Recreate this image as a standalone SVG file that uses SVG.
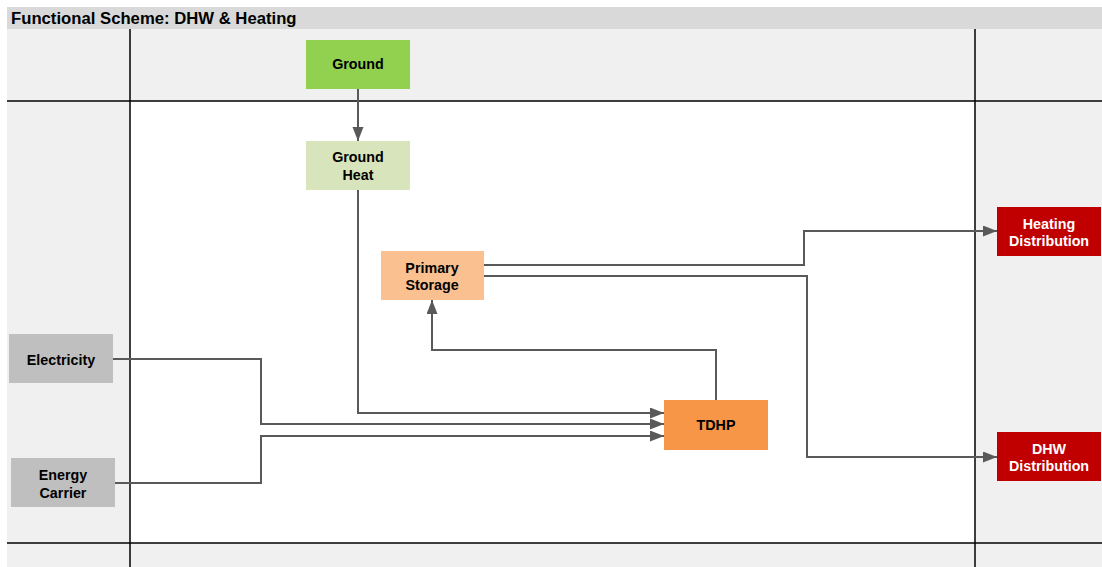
<svg xmlns="http://www.w3.org/2000/svg" width="1102" height="567" viewBox="0 0 1102 567">
<style>
.lbl{font-family:"Liberation Sans",Arial,sans-serif;font-weight:bold;font-size:14.3px;text-anchor:middle;fill:#000}
.w{fill:#fff}
.conn{fill:none;stroke:#595959;stroke-width:2}
.grid{stroke:#000;stroke-width:1.5}
</style>
<defs>
<marker id="arr" markerUnits="userSpaceOnUse" markerWidth="16" markerHeight="12" refX="14" refY="5.5" orient="auto">
<path d="M0,0 L14,5.5 L0,11 Z" fill="#595959"/>
</marker>
</defs>
<g id="background">
<rect x="0" y="0" width="1102" height="567" fill="#fff"/>
<rect x="7" y="29" width="1095" height="538" fill="#f0f0f0"/>
<rect x="7" y="7" width="1095" height="22" fill="#d9d9d9"/>
<rect x="130" y="101" width="845" height="442" fill="#fff"/>
<line class="grid" x1="7" y1="101" x2="1102" y2="101"/>
<line class="grid" x1="7" y1="543" x2="1102" y2="543"/>
<line class="grid" x1="130" y1="29" x2="130" y2="567"/>
<line class="grid" x1="975" y1="29" x2="975" y2="567"/>
<text x="11" y="24" font-family="Liberation Sans, Arial, sans-serif" font-weight="bold" font-size="16.7">Functional Scheme: DHW &amp; Heating</text>
</g>
<g id="connectors">
<path class="conn" d="M358,89 V141" marker-end="url(#arr)"/>
<path class="conn" d="M358,190 V413 H664" marker-end="url(#arr)"/>
<path class="conn" d="M113,359 H261 V424 H664" marker-end="url(#arr)"/>
<path class="conn" d="M115,483 H261 V436 H664" marker-end="url(#arr)"/>
<path class="conn" d="M716,400 V350 H432 V300" marker-end="url(#arr)"/>
<path class="conn" d="M484,265 H804 V231 H997" marker-end="url(#arr)"/>
<path class="conn" d="M484,276 H807 V457 H997" marker-end="url(#arr)"/>
</g>
<g id="ground">
<rect x="306" y="40" width="104" height="49" fill="#92d050"/>
<text class="lbl" x="358" y="69">Ground</text>
</g>
<g id="ground-heat">
<rect x="306" y="141" width="104" height="49" fill="#d8e4bc"/>
<text class="lbl" x="358" y="162">Ground</text>
<text class="lbl" x="358" y="180">Heat</text>
</g>
<g id="primary-storage">
<rect x="381" y="251" width="103" height="49" fill="#fac090"/>
<text class="lbl" x="432" y="273">Primary</text>
<text class="lbl" x="432" y="290">Storage</text>
</g>
<g id="electricity">
<rect x="9" y="334" width="104" height="49" fill="#bfbfbf"/>
<text class="lbl" x="61" y="365">Electricity</text>
</g>
<g id="energy-carrier">
<rect x="11" y="458" width="104" height="49" fill="#bfbfbf"/>
<text class="lbl" x="63" y="480">Energy</text>
<text class="lbl" x="63" y="498">Carrier</text>
</g>
<g id="tdhp">
<rect x="664" y="400" width="104" height="50" fill="#f79646"/>
<text class="lbl" x="716" y="430">TDHP</text>
</g>
<g id="heating-distribution">
<rect x="997" y="207" width="104" height="49" fill="#c00000"/>
<text class="lbl w" x="1049" y="229">Heating</text>
<text class="lbl w" x="1049" y="246">Distribution</text>
</g>
<g id="dhw-distribution">
<rect x="997" y="432" width="104" height="49" fill="#c00000"/>
<text class="lbl w" x="1049" y="454">DHW</text>
<text class="lbl w" x="1049" y="471">Distribution</text>
</g>
</svg>
